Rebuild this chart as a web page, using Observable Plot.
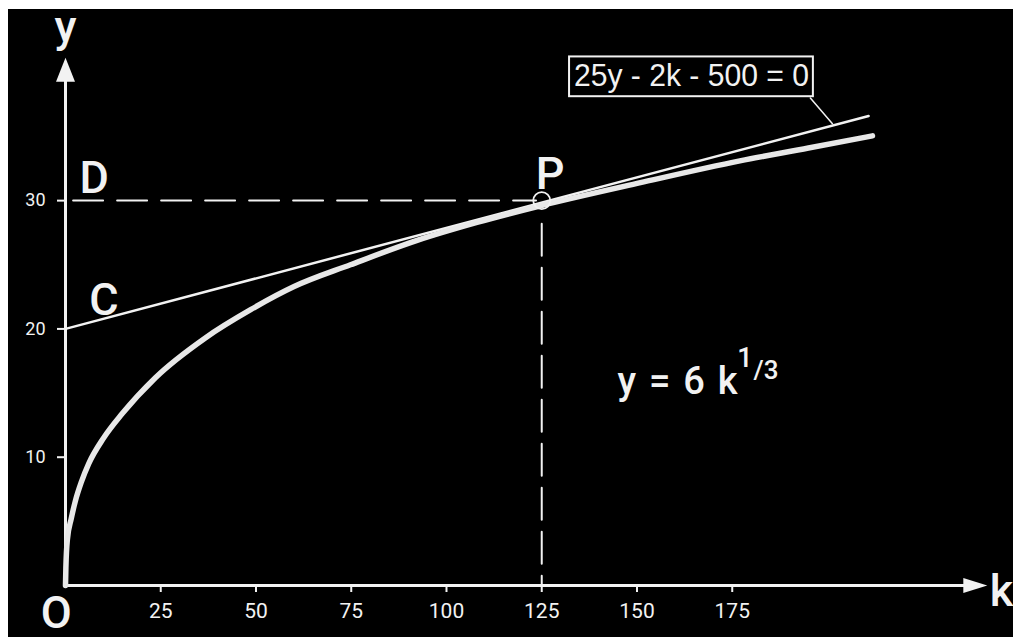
<!DOCTYPE html>
<html>
<head>
<meta charset="utf-8">
<script src="https://cdn.jsdelivr.net/npm/d3@7"></script>
<script src="https://cdn.jsdelivr.net/npm/@observablehq/plot@0.6"></script>
<style>
  html, body { margin: 0; padding: 0; background: #ffffff; }
  #wrap { padding: 9px 0 0 8px; width: 1005px; height: 628px; }
  svg { display: block; }
</style>
</head>
<body>
<div id="wrap"></div>
<script>
// ---- data ----
const kTicks = [25, 50, 75, 100, 125, 150, 175];
const yTicks = [10, 20, 30];

// y = 6 k^(1/3) curve
const curveK = [0, 0.1, 0.5, 1.5, 2.6, 4.2, 6.1, 10, 14.9, 23.6, 36.7, 48.6, 60, 74.8, 92.3, 108, 124.7, 150.9, 177, 195, 211.8];
const curveY = [0, 1.4, 3.6, 5.2, 6.6, 8.1, 9.5, 11.5, 13.4, 16.2, 19.3, 21.5, 23.3, 25.0, 26.9, 28.3, 29.6, 31.4, 33.1, 34.1, 35.05];

// tangent line 25y - 2k - 500 = 0
const tangentK = [0, 210.8];
const tangentY = [20, 36.6];

// point P
const pK = 125;
const pY = 30;
const dashStartK = 2;

// axis extents (in data units)
const xAxisEnd = 236;
const yAxisEnd = 39.5;
const xArrowK = 238.8;
const yArrowY = 40.2;

// letter labels
const letterText = ["y", "D", "C", "P", "O", "k"];
const letterK = [0, 7.5, 10.1, 127.2, -2.4, 245.7];
const letterY = [42.4, 30.6, 21.1, 30.9, -3.3, -1.57];

// equation labels
const eqText = "y = 6 k";
const eqK = 144.9, eqY = 14.94;
const supOne = "1", supOneK = 178.3, supOneY = 17.0;
const supRest = "/3", supRestK = 180.6, supRestY = 16.1;

const boxText = "25y - 2k - 500 = 0";
const boxK = [132.3, 196.3], boxY = [38.1, 41.2];
const boxTextK = 164.3, boxTextY = 38.95;
const leaderK = [195.5, 201.3], leaderY = [38.0, 36.0];

// ---- build ----
const curve = curveK.map((k, i) => ({k, y: curveY[i]}));
const tangent = tangentK.map((k, i) => ({k, y: tangentY[i]}));
const letters = letterText.map((t, i) => ({t, k: letterK[i], y: letterY[i]}));
const leader = leaderK.map((k, i) => ({k, y: leaderY[i]}));

const arrowUp = {draw(ctx) { ctx.moveTo(0, -12); ctx.lineTo(9.5, 12); ctx.lineTo(-9.5, 12); ctx.closePath(); }};
const arrowRight = {draw(ctx) { ctx.moveTo(12, 0); ctx.lineTo(-12, 7.5); ctx.lineTo(-12, -7.5); ctx.closePath(); }};

const W = "#f2f2f2";
const tickFont = "Roboto, 'DejaVu Sans', sans-serif";
const letterFont = "Roboto, 'DejaVu Sans', sans-serif";

const chart = Plot.plot({
  width: 1005,
  height: 628,
  marginLeft: 57,
  marginRight: 26,
  marginTop: 50,
  marginBottom: 52,
  style: {background: "#000000", color: W, overflow: "visible"},
  x: {domain: [0, 242]},
  y: {domain: [0, 41]},
  marks: [
    // dashed guides
    Plot.line([{k: dashStartK, y: pY}, {k: pK - 1.5, y: pY}], {x: "k", y: "y", stroke: W, strokeWidth: 2, strokeDasharray: "30,14"}),
    Plot.line([{k: pK, y: pY - 1.8}, {k: pK, y: 0}], {x: "k", y: "y", stroke: W, strokeWidth: 2, strokeDasharray: "32,12"}),
    // axes
    Plot.ruleY([0], {x1: 0, x2: xAxisEnd, stroke: W, strokeWidth: 3}),
    Plot.ruleX([0], {y1: 0, y2: yAxisEnd, stroke: W, strokeWidth: 3}),
    Plot.dot([{k: 0, y: yArrowY}], {x: "k", y: "y", symbol: arrowUp, fill: W, stroke: "none"}),
    Plot.dot([{k: xArrowK, y: 0}], {x: "k", y: "y", symbol: arrowRight, fill: W, stroke: "none"}),
    Plot.axisX({ticks: kTicks, tickSize: 7, tickPadding: 11, fontSize: 21, stroke: W, strokeWidth: 2, fill: W, fontFamily: tickFont, tickFormat: d => String(d)}),
    Plot.axisY({ticks: yTicks, tickSize: 8, tickPadding: 12, fontSize: 18, stroke: W, strokeWidth: 2, fill: W, fontFamily: tickFont, tickFormat: d => String(d)}),
    // tangent line
    Plot.line(tangent, {x: "k", y: "y", stroke: W, strokeWidth: 2.5, strokeLinecap: "round"}),
    // curve
    Plot.line(curve, {x: "k", y: "y", stroke: "#e8e8e8", strokeWidth: 5.5, strokeLinecap: "round", curve: "monotone-x"}),
    // P circle
    Plot.dot([{k: pK, y: pY}], {x: "k", y: "y", r: 8.5, stroke: W, strokeWidth: 1.8, fill: "none"}),
    // leader and box
    Plot.line(leader, {x: "k", y: "y", stroke: W, strokeWidth: 1.5}),
    Plot.rect([{x1: boxK[0], x2: boxK[1], y1: boxY[0], y2: boxY[1]}], {x1: "x1", x2: "x2", y1: "y1", y2: "y2", fill: "#000", stroke: W, strokeWidth: 2}),
    Plot.text([boxText], {x: boxTextK, y: boxTextY, text: d => d, fill: W, fontSize: 31, lineAnchor: "bottom", fontFamily: "'Liberation Sans', Arial, sans-serif"}),
    // letters
    Plot.text(letters, {x: "k", y: "y", text: "t", fill: W, fontSize: 45, fontWeight: 500, lineAnchor: "bottom", fontFamily: letterFont}),
    // equation
    Plot.text([eqText], {x: eqK, y: eqY, text: d => d, fill: W, fontSize: 38, fontWeight: 500, textAnchor: "start", lineAnchor: "bottom", fontFamily: letterFont}),
    Plot.text([supOne], {x: supOneK, y: supOneY, text: d => d, fill: W, fontSize: 27, fontWeight: 500, lineAnchor: "bottom", fontFamily: letterFont}),
    Plot.text([supRest], {x: supRestK, y: supRestY, text: d => d, fill: W, fontSize: 26, fontWeight: 500, textAnchor: "start", lineAnchor: "bottom", fontFamily: letterFont})
  ]
});
document.getElementById("wrap").appendChild(chart);

// fit text widths to the reference lettering
d3.select(chart).selectAll("text").filter(function() { return this.textContent === boxText; })
  .attr("textLength", 235).attr("lengthAdjust", "spacingAndGlyphs");
d3.select(chart).selectAll("text").filter(function() { return this.textContent === eqText; })
  .attr("textLength", 120).attr("lengthAdjust", "spacing");
</script>
</body>
</html>
